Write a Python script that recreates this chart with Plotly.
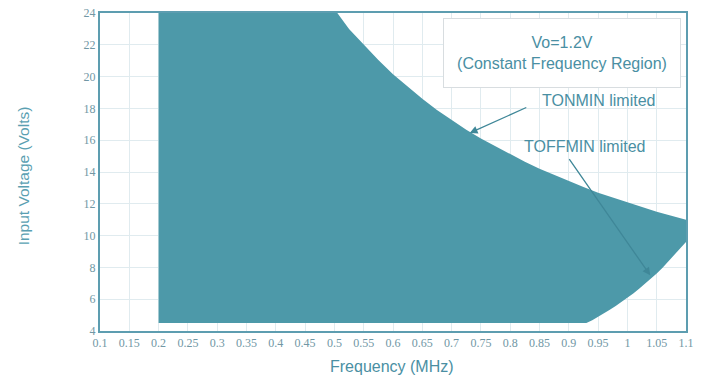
import plotly.graph_objects as go

# Upper boundary (TONMIN limited)
upper_f = [0.2, 0.505, 0.525, 0.55, 0.575, 0.6, 0.625, 0.65, 0.675, 0.7, 0.725, 0.75, 0.775,
           0.8, 0.825, 0.85, 0.875, 0.9, 0.925, 0.95, 0.975, 1.0, 1.025, 1.05, 1.075, 1.1]
upper_v = [24.0, 24.0, 23.0, 22.0, 21.05, 20.15, 19.35, 18.6, 17.9, 17.25, 16.65, 16.1, 15.6,
           15.1, 14.65, 14.2, 13.8, 13.4, 13.05, 12.7, 12.4, 12.1, 11.8, 11.5, 11.25, 11.0]
# Lower boundary (TOFFMIN limited)
lower_f = [0.2, 0.93, 0.94, 0.95, 0.96, 0.97, 0.98, 0.99, 1.0, 1.01, 1.02, 1.03, 1.04,
           1.05, 1.06, 1.07, 1.08, 1.09, 1.1]
lower_v = [4.5, 4.5, 4.68, 4.88, 5.1, 5.33, 5.57, 5.82, 6.08, 6.36, 6.65, 6.96, 7.28,
           7.62, 7.98, 8.36, 8.76, 9.18, 9.6]

x_ticks = [0.1, 0.15, 0.2, 0.25, 0.3, 0.35, 0.4, 0.45, 0.5, 0.55, 0.6, 0.65,
           0.7, 0.75, 0.8, 0.85, 0.9, 0.95, 1.0, 1.05, 1.1]
x_labels = ["0.1", "0.15", "0.2", "0.25", "0.3", "0.35", "0.4", "0.45", "0.5", "0.55", "0.6",
            "0.65", "0.7", "0.75", "0.8", "0.85", "0.9", "0.95", "1", "1.05", "1.1"]
y_ticks = [4, 6, 8, 10, 12, 14, 16, 18, 20, 22, 24]

poly_x = upper_f + lower_f[::-1]
poly_y = upper_v + lower_v[::-1]

FILL = "#4d99a9"
TEAL = "#4a8fa3"
AXIS = "#5d9db0"
GRID = "#e0ebef"

fig = go.Figure()
fig.add_trace(go.Scatter(x=poly_x, y=poly_y, fill="toself", fillcolor=FILL,
                         mode="lines", line=dict(width=0, color=FILL),
                         hoverinfo="skip", showlegend=False))

axis_common = dict(showline=True, linecolor=AXIS, linewidth=2, mirror=True,
                   gridcolor=GRID, gridwidth=1, zeroline=False, ticks="", automargin=False,
                   tickfont=dict(family="Liberation Serif", size=12, color="#7197a5"))

fig.update_xaxes(range=[0.1, 1.1], tickvals=x_ticks, ticktext=x_labels, **axis_common)
fig.update_yaxes(range=[4, 24], tickvals=y_ticks, **axis_common)

# axis titles
fig.add_annotation(xref="paper", yref="paper", x=0.499, y=-0.113, xanchor="center", yanchor="middle",
                   text="Frequency (MHz)", showarrow=False,
                   font=dict(family="Liberation Sans", size=16, color=TEAL))
fig.add_annotation(xref="paper", yref="paper", x=-0.131, y=0.487, xanchor="center", yanchor="middle",
                   text="Input Voltage (Volts)", showarrow=False, textangle=-90,
                   font=dict(family="Liberation Sans", size=15.5, color="#5a9fb2"))

fig.add_annotation(xref="paper", yref="paper", x=0.788, y=0.874, xanchor="center", yanchor="middle",
                   text="Vo=1.2V<br>(Constant Frequency Region)", showarrow=False,
                   font=dict(family="Liberation Sans", size=16, color=TEAL),
                   bordercolor="#d8dde0", borderwidth=1, bgcolor="white",
                   borderpad=8, width=220, height=52)

fig.add_annotation(x=0.731, y=16.45, ax=0.83, ay=18.1, xref="x", yref="y", axref="x", ayref="y",
                   text="", showarrow=True, arrowhead=2, arrowsize=1.2, arrowwidth=1.3, arrowcolor="#3f8798")
fig.add_annotation(x=0.851, y=18.5, xref="x", yref="y", text="TONMIN limited", showarrow=False,
                   xanchor="left", font=dict(family="Liberation Sans", size=16, color=TEAL))

fig.add_annotation(x=1.039, y=7.5, ax=0.899, ay=14.9, xref="x", yref="y", axref="x", ayref="y",
                   text="", showarrow=True, arrowhead=2, arrowsize=1.2, arrowwidth=1.3, arrowcolor="#3f8798")
fig.add_annotation(x=0.82, y=15.6, xref="x", yref="y", text="TOFFMIN limited", showarrow=False,
                   xanchor="left", font=dict(family="Liberation Sans", size=16, color=TEAL))

fig.update_layout(width=711, height=375, margin=dict(l=100, r=25, t=13, b=44),
                  plot_bgcolor="white", paper_bgcolor="white", showlegend=False)

fig.write_html("out.html")
